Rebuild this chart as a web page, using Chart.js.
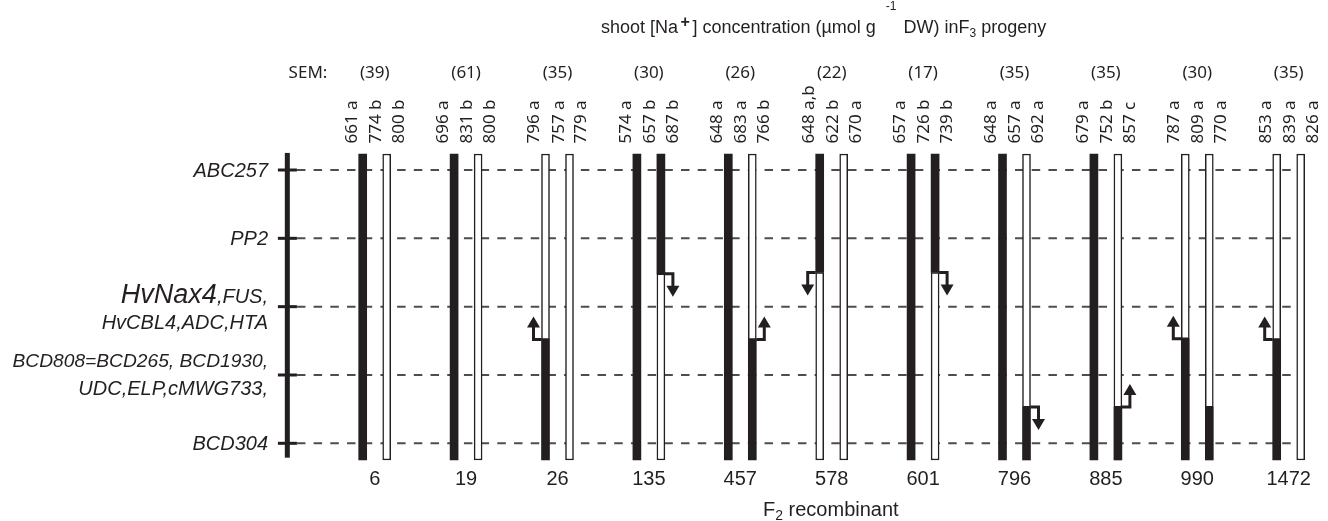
<!DOCTYPE html>
<html>
<head>
<meta charset="utf-8">
<script src="https://cdn.jsdelivr.net/npm/chart.js@4.4.1/dist/chart.umd.min.js"></script>
<style>
  html, body { margin: 0; padding: 0; background: #fff; }
  #wrap { width: 1328px; height: 521px; position: relative; }
</style>
</head>
<body>
<div id="wrap"><canvas id="map"></canvas></div>
<script>
// F2 recombinant lines and the F3 shoot Na+ means
const groups = ['6', '19', '26', '135', '457', '578', '601', '796', '885', '990', '1472'];
const semLabels = ['(39)', '(61)', '(35)', '(30)', '(26)', '(22)', '(17)', '(35)', '(35)', '(30)', '(35)'];
const meanLabels = [
  ['661 a', '774 b', '800 b'],
  ['696 a', '831 b', '800 b'],
  ['796 a', '757 a', '779 a'],
  ['574 a', '657 b', '687 b'],
  ['648 a', '683 a', '766 b'],
  ['648 a,b', '622 b', '670 a'],
  ['657 a', '726 b', '739 b'],
  ['648 a', '657 a', '692 a'],
  ['679 a', '752 b', '857 c'],
  ['787 a', '809 a', '770 a'],
  ['853 a', '839 a', '826 a']
];

// markers along the chromosome (0 = top)
const markers = ['ABC257', 'PP2', 'HvNax4', 'BCD808', 'BCD304'];
const markerPos = [0, 1, 2, 3, 4];

// genotype of each bar: k = black, w = white, break = position where it changes
const bar1Top    = ['k', 'k', 'w', 'k', 'k', 'k', 'k', 'k', 'k', 'w', 'w'];
const bar1Bottom = ['k', 'k', 'k', 'k', 'k', 'w', 'k', 'k', 'k', 'k', 'k'];
const bar1Break  = [null, null, 2.48, null, null, 1.5, null, null, null, 2.47, 2.48];
const bar2Top    = ['w', 'w', 'w', 'k', 'w', 'w', 'k', 'w', 'w', 'w', 'w'];
const bar2Bottom = ['w', 'w', 'w', 'w', 'k', 'w', 'w', 'k', 'k', 'k', 'w'];
const bar2Break  = [null, null, null, 1.52, 2.48, null, 1.5, 3.47, 3.47, 3.47, null];

// recombination arrows: group, bar (0/1), side (-1 left, 1 right), dir ('up'/'down')
const arrowGroup = [2, 3, 4, 5, 6, 7, 8, 9, 10];
const arrowBar   = [0, 1, 1, 0, 1, 1, 1, 0, 0];
const arrowSide  = [-1, 1, 1, -1, 1, 1, 1, -1, -1];
const arrowDir   = ['up', 'down', 'up', 'down', 'down', 'down', 'up', 'up', 'up'];

const INK = '#231f20';
const BAR_START = -0.234, BAR_END = 4.244;
const BAR_OFF = 0.1313;           // half the gap between the two bars of a group
const LABEL_OFF = [-0.2626, 0, 0.2516];
const AXIS_X = -0.956;

// build the floating segments
const blackSeg = [], whiteSeg = [];
function addBar(x, top, bottom, brk) {
  const push = (c, a, b) => (c === 'k' ? blackSeg : whiteSeg).push({ x: x, y: [a, b] });
  if (brk === null) push(top, BAR_START, BAR_END);
  else { push(top, BAR_START, brk); push(bottom, brk, BAR_END); }
}
groups.forEach((g, i) => {
  addBar(i - BAR_OFF, bar1Top[i], bar1Bottom[i], bar1Break[i]);
  addBar(i + BAR_OFF, bar2Top[i], bar2Bottom[i], bar2Break[i]);
});

const dashSets = markerPos.map(p => ({
  type: 'line',
  data: [{ x: -0.851, y: p }, { x: 10.178, y: p }],
  borderColor: '#4d4d4f',
  borderWidth: 2,
  borderDash: [8.5, 8.2],
  pointRadius: 0,
  order: 3
}));

function drawText(ctx, pieces, x, y) {
  // pieces: [text, font, dy, gapBefore]
  let cx = x;
  pieces.forEach(p => {
    ctx.font = p[1];
    cx += p[3] || 0;
    ctx.fillText(p[0], cx, y + (p[2] || 0));
    cx += ctx.measureText(p[0]).width;
  });
}

const annotate = {
  id: 'annotate',
  beforeDatasetsDraw(chart) {
    const ctx = chart.ctx, xs = chart.scales.x, ys = chart.scales.y;
    ctx.save();
    ctx.fillStyle = INK;
    ctx.strokeStyle = INK;
    // chromosome axis
    const ax = xs.getPixelForValue(AXIS_X);
    ctx.fillRect(ax - 2.5, ys.getPixelForValue(-0.25), 5, ys.getPixelForValue(4.21) - ys.getPixelForValue(-0.25));
    ctx.lineWidth = 3;
    markerPos.forEach(p => {
      const py = ys.getPixelForValue(p);
      ctx.beginPath();
      ctx.moveTo(xs.getPixelForValue(-1.059), py);
      ctx.lineTo(xs.getPixelForValue(-0.851), py);
      ctx.stroke();
    });
    ctx.restore();
  },
  afterDatasetsDraw(chart) {
    const ctx = chart.ctx, xs = chart.scales.x, ys = chart.scales.y;
    ctx.save();
    ctx.fillStyle = INK;
    ctx.strokeStyle = INK;

    // title
    ctx.textBaseline = 'alphabetic';
    ctx.textAlign = 'left';
    const tf = '18px "Liberation Sans", Arial, sans-serif';
    const sf = '12px "Liberation Sans", Arial, sans-serif';
    drawText(ctx, [
      ['shoot [Na', tf], ['+', 'bold 16px "Liberation Sans", Arial, sans-serif', -6, 2.5],
      [']', tf, 0, 2.5], [' concentration (\u00b5mol g', tf],
      ['-1', sf, -23, 10], ['DW) inF', tf, 0, 7], ['3', sf, 4], [' progeny', tf]
    ], 601, 33);

    // SEM row
    ctx.font = '17px "Noto Sans", sans-serif';
    ctx.textAlign = 'center';
    ctx.fillText('SEM:', 308, 78);
    groups.forEach((g, i) => ctx.fillText(semLabels[i], xs.getPixelForValue(i), 78));

    // rotated mean labels
    ctx.textAlign = 'left';
    groups.forEach((g, i) => {
      meanLabels[i].forEach((t, j) => {
        const px = xs.getPixelForValue(i + LABEL_OFF[j]) + 6;
        ctx.save();
        ctx.translate(px, 143.5);
        ctx.rotate(-Math.PI / 2);
        ctx.fillText(t, 0, 0);
        ctx.restore();
      });
    });

    // marker names
    ctx.textAlign = 'right';
    const mf = 'italic 20px "Liberation Sans", Arial, sans-serif';
    const right = 268;
    ctx.font = mf;
    ctx.fillText('ABC257', right, ys.getPixelForValue(0) + 7);
    ctx.fillText('PP2', right, ys.getPixelForValue(1) + 7);
    const fus = ',FUS,';
    ctx.fillText(fus, right, ys.getPixelForValue(2) - 4);
    const fw = ctx.measureText(fus).width;
    ctx.font = 'italic 27px "Liberation Sans", Arial, sans-serif';
    ctx.fillText(markers[2], right - fw, ys.getPixelForValue(2) - 4);
    ctx.font = mf;
    ctx.fillText('HvCBL4,ADC,HTA', right, ys.getPixelForValue(2) + 22);
    ctx.fillText('UDC,ELP,cMWG733,', right, ys.getPixelForValue(3) + 20);
    ctx.fillText('BCD304', right, ys.getPixelForValue(4) + 7);
    ctx.font = 'italic 19.2px "Liberation Sans", Arial, sans-serif';
    ctx.fillText('BCD808=BCD265, BCD1930,', right, ys.getPixelForValue(3) - 8);

    // recombinant numbers
    ctx.textAlign = 'center';
    ctx.font = '20px "Liberation Sans", Arial, sans-serif';
    groups.forEach((g, i) => ctx.fillText(g, xs.getPixelForValue(i), 485));
    ctx.textAlign = 'left';
    drawText(ctx, [
      ['F', '20px "Liberation Sans", Arial, sans-serif'], ['2', '14px "Liberation Sans", Arial, sans-serif', 4],
      [' recombinant', '20px "Liberation Sans", Arial, sans-serif']
    ], 763, 516);

    // arrows
    ctx.lineWidth = 3;
    arrowGroup.forEach((gi, k) => {
      const brk = arrowBar[k] === 0 ? bar1Break[gi] : bar2Break[gi];
      const bx = xs.getPixelForValue(gi + (arrowBar[k] === 0 ? -BAR_OFF : BAR_OFF));
      const py = ys.getPixelForValue(brk);
      const s = arrowSide[k], d = arrowDir[k] === 'up' ? -1 : 1;
      const ex = bx + s * 12;
      ctx.beginPath();
      ctx.moveTo(bx + s * 4, py);
      ctx.lineTo(ex, py);
      ctx.lineTo(ex, py + d * 13);
      ctx.stroke();
      ctx.beginPath();
      ctx.moveTo(ex - 6.5, py + d * 12);
      ctx.lineTo(ex + 6.5, py + d * 12);
      ctx.lineTo(ex, py + d * 23);
      ctx.closePath();
      ctx.fill();
    });
    ctx.restore();
  }
};

new Chart(document.getElementById('map'), {
  type: 'bar',
  data: {
    datasets: [
      {
        data: blackSeg,
        backgroundColor: INK,
        borderWidth: 0,
        barThickness: 8,
        grouped: false,
        order: 1
      },
      {
        data: whiteSeg,
        backgroundColor: '#ffffff',
        borderColor: INK,
        borderWidth: 1.5,
        borderSkipped: false,
        barThickness: 8,
        grouped: false,
        order: 2
      },
      ...dashSets
    ]
  },
  options: {
    responsive: true,
    maintainAspectRatio: false,
    animation: false,
    layout: { padding: 0 },
    plugins: { legend: { display: false }, tooltip: { enabled: false } },
    scales: {
      x: { type: 'linear', min: -4.0996, max: 10.43, offset: false, display: false },
      y: { type: 'linear', min: -2.488, max: 5.137, reverse: true, display: false }
    }
  },
  plugins: [annotate]
});
</script>
</body>
</html>
